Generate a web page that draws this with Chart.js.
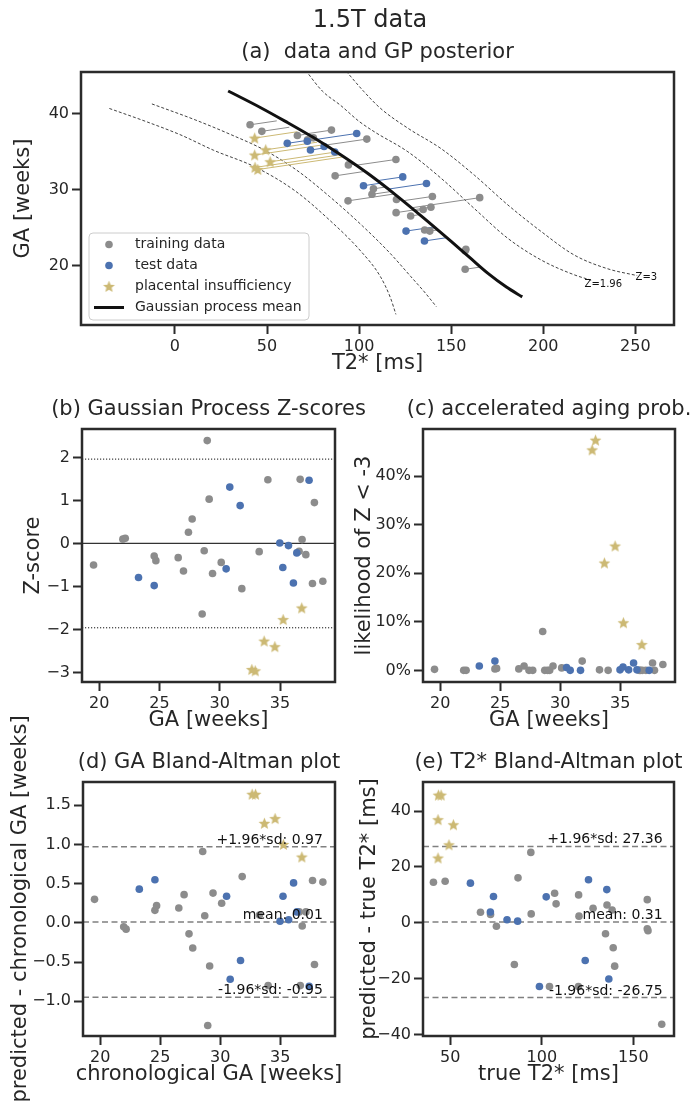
<!DOCTYPE html>
<html>
<head>
<meta charset="utf-8">
<script src="https://cdn.jsdelivr.net/npm/chart.js@4.4.1/dist/chart.umd.min.js"></script>
<style>
  html, body { margin: 0; padding: 0; background: #fff; }
  #page { position: relative; width: 690px; height: 1107px; overflow: hidden; }
  canvas { position: absolute; left: 0; }
</style>
</head>
<body>
<div id="page">
  <canvas id="panelA" width="690" height="392" style="top:0px"></canvas>
  <canvas id="panelB" width="690" height="353" style="top:392px"></canvas>
  <canvas id="panelC" width="690" height="353" style="top:392px"></canvas>
  <canvas id="panelD" width="690" height="407" style="top:700px"></canvas>
  <canvas id="panelE" width="690" height="407" style="top:700px"></canvas>
</div>
<script>
// ==================== DATA ====================
// training subjects (grey dots)
const trainGA  = [19.53, 21.96, 22.16, 24.56, 24.70, 26.55, 26.99, 27.40, 27.71, 28.54, 28.71, 28.96, 29.12, 29.40, 30.12, 31.83, 33.27, 33.99, 36.58, 36.67, 36.83, 37.14, 37.69, 37.85, 38.55];
const trainT2  = [157.6, 157.6, 158.0, 138.4, 135.6, 128.0, 120.1, 134.8, 139.0, 94.0, 120.3, 165.5, 139.8, 107.0, 107.8, 87.0, 94.2, 120.0, 72.0, 104.2, 75.2, 66.5, 47.2, 85.0, 40.8];
const trainZ   = [-0.50, 0.10, 0.12, -0.29, -0.40, -0.33, -0.64, 0.26, 0.57, -1.64, -0.17, 2.39, 1.03, -0.70, -0.44, -1.05, -0.19, 1.48, -0.18, 1.49, 0.09, -0.26, -0.93, 0.95, -0.88];
const trainP   = [0.2, 0.0, 0.0, 0.3, 0.4, 0.3, 0.9, 0.0, 0.0, 8.0, 0.0, 0.0, 0.0, 0.9, 0.5, 1.9, 0.1, 0.0, 0.0, 0.0, 0.0, 0.0, 1.5, 0.0, 1.2];
const trainDGA = [0.30, -0.05, -0.08, 0.16, 0.22, 0.19, 0.36, -0.14, -0.32, 0.91, 0.09, -1.31, -0.55, 0.38, 0.25, 0.59, 0.10, -0.80, 0.14, -0.80, -0.04, 0.14, 0.54, -0.53, 0.52];
const trainDT2 = [8.3, -2.1, -2.8, 4.6, 6.4, 5.2, 10.0, -3.9, -8.9, 25.2, 2.4, -36.3, -15.5, 10.6, 6.8, 16.1, 3.2, -22.8, 3.0, -22.8, -1.2, 3.8, 14.9, -14.9, 14.5];

// test subjects (blue dots)
const testGA  = [23.26, 24.56, 30.53, 30.83, 31.69, 34.98, 35.23, 35.70, 36.11, 36.39, 37.41];
const testT2  = [135.5, 125.5, 102.4, 136.6, 123.7, 86.8, 73.6, 81.0, 61.0, 71.9, 98.7];
const testZ   = [-0.79, -0.98, -0.59, 1.31, 0.88, 0.01, -0.56, -0.05, -0.92, -0.22, 1.47];
const testP   = [0.9, 1.9, 0.6, 0.0, 0.0, 0.1, 0.7, 0.1, 1.5, 0.1, 0.0];
const testDGA = [0.43, 0.55, 0.34, -0.72, -0.48, 0.02, 0.34, 0.04, 0.51, 0.14, -0.81];
const testDT2 = [11.9, 15.4, 9.3, -20.1, -13.5, 0.6, 9.4, 1.1, 14.2, 3.9, -22.8];

// placental insufficiency (stars)
const piGA  = [32.66, 32.94, 33.68, 34.57, 35.26, 36.80];
const piT2  = [45.0, 43.5, 51.7, 43.3, 49.3, 43.3];
const piZ   = [-2.93, -2.96, -2.27, -2.40, -1.77, -1.50];
const piP   = [45.4, 47.4, 22.1, 25.6, 9.8, 5.3];
const piDGA = [1.64, 1.64, 1.27, 1.33, 1.00, 0.84];
const piDT2 = [45.7, 45.7, 35.1, 36.9, 27.9, 23.2];

// GP posterior curves in panel (a): T2* [ms] vs GA [weeks]
const meanT2 = [28.9, 46.6, 60.0, 75.0, 90.0, 105.0, 120.0, 135.0, 150.0, 160.0, 170.0, 180.0, 188.6];
const meanGA = [43.0, 40.8, 39.0, 36.9, 34.6, 32.1, 29.3, 26.3, 23.2, 21.1, 19.0, 17.2, 15.9];
const lo3T2  = [-35.6, -14.8, 3.3, 21.0, 43.5, 65.0, 84.0, 101.0, 111.5, 117.0, 120.0];
const lo3GA  = [40.7, 38.9, 37.2, 35.2, 33.0, 29.9, 26.0, 21.9, 18.6, 15.8, 13.6];
const lo196T2 = [-12.5, 11.0, 30.0, 48.0, 66.0, 84.0, 102.0, 116.6, 128.0, 136.0, 142.0];
const lo196GA = [41.3, 39.2, 37.3, 35.3, 32.6, 29.1, 25.2, 21.7, 18.6, 16.4, 14.6];
const hi196T2 = [71.0, 80.0, 90.0, 100.0, 108.5, 126.5, 144.6, 162.7, 180.8, 198.9, 216.9, 226.0];
const hi196GA = [45.7, 43.0, 41.1, 39.0, 37.6, 35.0, 31.5, 27.5, 23.6, 20.75, 18.8, 18.1];
const hi3T2  = [93.0, 102.7, 111.7, 126.5, 144.6, 162.7, 180.8, 198.9, 216.9, 235.0, 251.0];
const hi3GA  = [45.6, 42.9, 40.7, 38.1, 35.4, 31.9, 28.0, 24.5, 21.4, 19.6, 18.7];

// reference lines
const zLimits = [-1.96, 1.96];
const baGaLines  = [0.97, 0.01, -0.95];
const baGaLabels = ['+1.96*sd: 0.97', 'mean: 0.01', '-1.96*sd: -0.95'];
const baT2Lines  = [27.36, 0.31, -26.75];
const baT2Labels = ['+1.96*sd: 27.36', 'mean: 0.31', '-1.96*sd: -26.75'];

// ticks
const ticksT2a = [0, 50, 100, 150, 200, 250];
const ticksGAa = [20, 30, 40];
const ticksGA  = [20, 25, 30, 35];
const ticksZ   = [-3, -2, -1, 0, 1, 2];
const ticksP   = [0, 10, 20, 30, 40];
const ticksDGA = [-1.0, -0.5, 0.0, 0.5, 1.0, 1.5];
const ticksDT2 = [-40, -20, 0, 20, 40];
const ticksT2e = [50, 100, 150];

const legendLabels = ['training data', 'test data', 'placental insufficiency', 'Gaussian process mean'];

// ==================== STYLE ====================
const FONT = '"DejaVu Sans", sans-serif';
const TEXT = '#262626';
const FRAME = '#2b2b2b';
const GREY = '#8c8c8c';
const BLUE = '#4c72b0';
const GOLD = '#ccb974';

function starImage(r, color) {
  const c = document.createElement('canvas');
  const s = Math.ceil(r * 2 + 2);
  c.width = c.height = s;
  const g = c.getContext('2d');
  g.translate(s / 2, s / 2 + r * 0.08);
  g.beginPath();
  for (let i = 0; i < 10; i++) {
    const rad = i % 2 ? r * 0.45 : r;
    const ang = -Math.PI / 2 + i * Math.PI / 5;
    g.lineTo(rad * Math.cos(ang), rad * Math.sin(ang));
  }
  g.closePath();
  g.fillStyle = color;
  g.fill();
  return c;
}
const STAR = starImage(6.2, GOLD);

const minus = s => String(s).replace('-', '\u2212');

// ==================== HELPERS ====================
const pts = (xs, ys) => xs.map((x, i) => ({ x, y: ys[i] }));
const segs = (xs, ys, dxs, dys) => xs.flatMap((x, i) => [
  { x, y: ys[i] }, { x: x + dxs[i], y: ys[i] + dys[i] }, { x: null, y: null }
]);

const dotDs = (data, color, order) => ({
  data, backgroundColor: color, borderColor: color, pointBackgroundColor: color,
  pointBorderWidth: 0, pointRadius: 3.8, order
});
const starDs = (data, order) => ({ data, pointStyle: STAR, pointRadius: 5, order });
const lineDs = (data, color, width, dash, order, extra) => Object.assign({
  data, showLine: true, pointRadius: 0, borderColor: color, backgroundColor: color,
  borderWidth: width, borderDash: dash, clip: 0, order
}, extra || {});
const hline = (v, xmin, xmax, color, width, dash) =>
  lineDs([{ x: xmin, y: v }, { x: xmax, y: v }], color, width, dash, 9);

function axis(min, max, ticks, fmt) {
  return {
    type: 'linear', min, max, bounds: 'data',
    afterBuildTicks: s => { s.ticks = ticks.map(v => ({ value: v })); },
    ticks: { font: { family: FONT, size: 16 }, color: TEXT, padding: 3, maxRotation: 0, autoSkip: false, callback: fmt },
    grid: { drawOnChartArea: false, drawTicks: true, tickLength: 9, tickWidth: 2, tickColor: FRAME },
    border: { display: false }
  };
}

function roundRect(ctx, x, y, w, h, r) {
  ctx.beginPath();
  ctx.moveTo(x + r, y);
  ctx.arcTo(x + w, y, x + w, y + h, r);
  ctx.arcTo(x + w, y + h, x, y + h, r);
  ctx.arcTo(x, y + h, x, y, r);
  ctx.arcTo(x, y, x + w, y, r);
  ctx.closePath();
}

// frame, titles, labels, legend and annotations
const decor = {
  id: 'decor',
  afterDatasetsDraw(chart, args, o) {
    const { ctx, chartArea: a, scales: { x, y } } = chart;
    ctx.save();

    // Bland-Altman labels
    if (o.ba) {
      ctx.font = `14px ${FONT}`;
      ctx.fillStyle = '#111';
      ctx.textAlign = 'right';
      ctx.textBaseline = 'alphabetic';
      o.ba.lines.forEach((v, i) => {
        ctx.fillText(o.ba.labels[i], x.getPixelForValue(o.ba.xAt), y.getPixelForValue(v) - 3);
      });
    }

    // contour labels
    if (o.zLabels) {
      ctx.font = `10px ${FONT}`;
      ctx.fillStyle = '#111';
      ctx.textAlign = 'center';
      ctx.textBaseline = 'middle';
      o.zLabels.forEach(l => ctx.fillText(l.text, x.getPixelForValue(l.x), y.getPixelForValue(l.y)));
    }

    // legend
    if (o.legend) {
      const x0 = a.left + 8, y0 = a.bottom - 92, w = 220, h = 87;
      roundRect(ctx, x0, y0, w, h, 4);
      ctx.fillStyle = 'rgba(255,255,255,0.85)';
      ctx.fill();
      ctx.strokeStyle = '#cccccc';
      ctx.lineWidth = 1;
      ctx.stroke();
      ctx.font = `14px ${FONT}`;
      ctx.textAlign = 'left';
      ctx.textBaseline = 'middle';
      legendLabels.forEach((label, i) => {
        const cy = y0 + 11.5 + i * 21, mx = x0 + 20;
        if (i === 0 || i === 1) {
          ctx.fillStyle = i === 0 ? GREY : BLUE;
          ctx.beginPath(); ctx.arc(mx, cy, 3.8, 0, Math.PI * 2); ctx.fill();
        } else if (i === 2) {
          ctx.drawImage(STAR, mx - STAR.width / 2, cy - STAR.height / 2);
        } else {
          ctx.strokeStyle = '#111'; ctx.lineWidth = 3;
          ctx.beginPath(); ctx.moveTo(x0 + 5, cy); ctx.lineTo(x0 + 35, cy); ctx.stroke();
        }
        ctx.fillStyle = TEXT;
        ctx.fillText(label, x0 + 46, cy);
      });
    }

    // frame
    ctx.strokeStyle = FRAME;
    ctx.lineWidth = 2.5;
    ctx.strokeRect(a.left, a.top, a.right - a.left, a.bottom - a.top);

    // titles and axis labels
    ctx.fillStyle = TEXT;
    ctx.textAlign = 'center';
    ctx.textBaseline = 'middle';
    ctx.font = `21px ${FONT}`;
    ctx.fillText(o.title, (a.left + a.right) / 2, a.top - 19);
    ctx.fillText(o.xLabel, (a.left + a.right) / 2, a.bottom + 39);
    ctx.save();
    ctx.translate(o.yLabelX, (a.top + a.bottom) / 2);
    ctx.rotate(-Math.PI / 2);
    ctx.fillText(o.yLabel, 0, 0);
    ctx.restore();
    if (o.suptitle) {
      ctx.font = `24px ${FONT}`;
      ctx.fillText(o.suptitle, 370, 21);
    }
    ctx.restore();
  }
};

function makePanel(id, top, height, box, scales, datasets, decorOpts) {
  const Y_W = 62, X_H = 30;
  const zeroPad = s => { s.paddingLeft = s.paddingRight = s.paddingTop = s.paddingBottom = 0; };
  scales.x.afterFit = s => { s.height = X_H; zeroPad(s); };
  scales.y.afterFit = s => { s.width = Y_W; zeroPad(s); };
  return new Chart(document.getElementById(id), {
    type: 'scatter',
    data: { datasets },
    options: {
      responsive: false,
      animation: false,
      devicePixelRatio: 1,
      layout: {
        autoPadding: false,
        padding: { left: box.l - Y_W, top: box.t - top, right: 690 - box.r, bottom: top + height - box.b - X_H }
      },
      scales,
      plugins: { legend: { display: false }, tooltip: { enabled: false }, decor: decorOpts }
    },
    plugins: [decor]
  });
}

// ==================== PANEL (a) ====================
makePanel('panelA', 0, 392, { l: 81, t: 72, r: 674, b: 325 },
  { x: axis(-51, 271, ticksT2a, v => minus(v)), y: axis(12.2, 45.5, ticksGAa, v => minus(v)) },
  [
    lineDs(pts(meanT2, meanGA), '#111', 3, [], 0, { cubicInterpolationMode: 'monotone' }),
    starDs(pts(piT2, piGA), 1),
    dotDs(pts(testT2, testGA), BLUE, 2),
    dotDs(pts(trainT2, trainGA), GREY, 3),
    lineDs(segs(piT2, piGA, piDT2, piDGA), GOLD, 1, [], 4),
    lineDs(segs(testT2, testGA, testDT2, testDGA), BLUE, 1, [], 5),
    lineDs(segs(trainT2, trainGA, trainDT2, trainDGA), GREY, 1, [], 6),
    lineDs(pts(lo3T2, lo3GA), '#111', 0.8, [3, 2], 7, { cubicInterpolationMode: 'monotone' }),
    lineDs(pts(lo196T2, lo196GA), '#111', 0.8, [3, 2], 7, { cubicInterpolationMode: 'monotone' }),
    lineDs(pts(hi196T2, hi196GA), '#111', 0.8, [3, 2], 7, { cubicInterpolationMode: 'monotone' }),
    lineDs(pts(hi3T2, hi3GA), '#111', 0.8, [3, 2], 7, { cubicInterpolationMode: 'monotone' })
  ],
  {
    suptitle: '1.5T data', title: '(a)  data and GP posterior',
    xLabel: 'T2* [ms]', yLabel: 'GA [weeks]', yLabelX: 24, legend: true,
    zLabels: [{ text: 'Z=1.96', x: 232.6, y: 17.6 }, { text: 'Z=3', x: 256, y: 18.4 }]
  });

// ==================== PANEL (b) ====================
makePanel('panelB', 392, 353, { l: 82, t: 429, r: 335, b: 682 },
  { x: axis(18.57, 39.56, ticksGA, v => minus(v)), y: axis(-3.22, 2.66, ticksZ, v => minus(v)) },
  [
    starDs(pts(piGA, piZ), 1),
    dotDs(pts(testGA, testZ), BLUE, 2),
    dotDs(pts(trainGA, trainZ), GREY, 3),
    hline(0, 18.57, 39.56, '#333', 1.3, []),
    hline(zLimits[0], 18.57, 39.56, '#111', 1, [1.2, 1.8]),
    hline(zLimits[1], 18.57, 39.56, '#111', 1, [1.2, 1.8])
  ],
  { title: '(b) Gaussian Process Z-scores', xLabel: 'GA [weeks]', yLabel: 'Z-score', yLabelX: 34 });

// ==================== PANEL (c) ====================
makePanel('panelC', 392, 353, { l: 423, t: 429, r: 675, b: 682 },
  { x: axis(18.57, 39.56, ticksGA, v => minus(v)), y: axis(-2.4, 49.7, ticksP, v => v + '%') },
  [
    starDs(pts(piGA, piP), 1),
    dotDs(pts(testGA, testP), BLUE, 2),
    dotDs(pts(trainGA, trainP), GREY, 3)
  ],
  { title: '(c) accelerated aging prob.', xLabel: 'GA [weeks]', yLabel: 'likelihood of Z < -3', yLabelX: 365 });

// ==================== PANEL (d) ====================
makePanel('panelD', 700, 407, { l: 83, t: 782, r: 335, b: 1036 },
  { x: axis(18.57, 39.56, ticksGA, v => minus(v)), y: axis(-1.443, 1.797, ticksDGA, v => minus(v.toFixed(1))) },
  [
    starDs(pts(piGA, piDGA), 1),
    dotDs(pts(testGA, testDGA), BLUE, 2),
    dotDs(pts(trainGA, trainDGA), GREY, 3),
    ...baGaLines.map(v => hline(v, 18.57, 39.56, '#808080', 1.5, [6, 3.5]))
  ],
  {
    title: '(d) GA Bland-Altman plot', xLabel: 'chronological GA [weeks]',
    yLabel: 'predicted - chronological GA [weeks]', yLabelX: 21,
    ba: { lines: baGaLines, labels: baGaLabels, xAt: 38.55 }
  });

// ==================== PANEL (e) ====================
makePanel('panelE', 700, 407, { l: 423, t: 782, r: 674, b: 1036 },
  { x: axis(35.1, 172.2, ticksT2e, v => minus(v)), y: axis(-40.5, 50.4, ticksDT2, v => minus(v)) },
  [
    starDs(pts(piT2, piDT2), 1),
    dotDs(pts(testT2, testDT2), BLUE, 2),
    dotDs(pts(trainT2, trainDT2), GREY, 3),
    ...baT2Lines.map(v => hline(v, 35.1, 172.2, '#808080', 1.5, [6, 3.5]))
  ],
  {
    title: '(e) T2* Bland-Altman plot', xLabel: 'true T2* [ms]',
    yLabel: 'predicted - true T2* [ms]', yLabelX: 370,
    ba: { lines: baT2Lines, labels: baT2Labels, xAt: 166.0 }
  });
</script>
</body>
</html>
